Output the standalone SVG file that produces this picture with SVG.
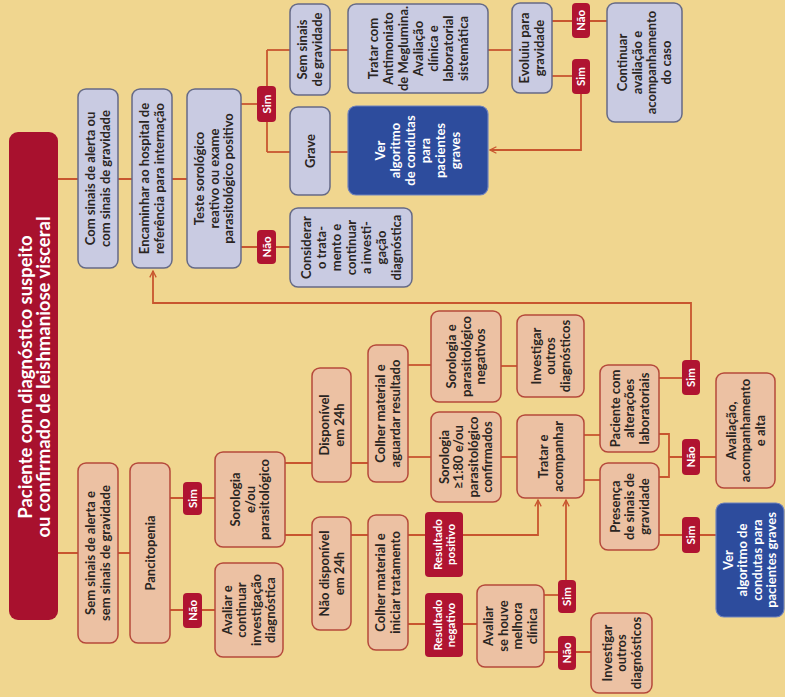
<svg xmlns="http://www.w3.org/2000/svg" width="785" height="697" viewBox="0 0 785 697">
<style>
.lav{fill:#c9cbe2;stroke:#656a86;stroke-width:1.5}
.pea{fill:#ecc1a3;stroke:#b5493b;stroke-width:1.5}
.blu{fill:#2d4c9d;stroke:#6f82bd;stroke-width:1.2}
.bad{fill:#b01431}
.tit{fill:#a8112e}
text{font-family:Lato,"Open Sans","Liberation Sans",sans-serif;font-weight:700;font-size:13px;fill:#2a2522;text-anchor:middle}
.w{fill:#ffffff}
.b{font-size:11.5px}
.h{font-size:18.5px}
#conn path{fill:none;stroke:#c8562f;stroke-width:1.8}
</style>
<defs>
<marker id="ar" viewBox="0 0 10 10" refX="9" refY="5" markerWidth="8" markerHeight="8" markerUnits="userSpaceOnUse" orient="auto"><path d="M1,1 L9,5 L1,9" fill="none" stroke="#c8562f" stroke-width="1.6"/></marker>
</defs>
<rect width="785" height="697" fill="#f0d68f"/>
<g id="conn">
<path d="M58,179 H187"/>
<path d="M241,104 H257"/>
<path d="M267,50 V152"/>
<path d="M267,50 H290"/>
<path d="M267,152 H290"/>
<path d="M241,247 H290"/>
<path d="M330,50 H348"/>
<path d="M330,152 H348"/>
<path d="M488,50 H512"/>
<path d="M552,21 H607"/>
<path d="M552,76 H572"/>
<path d="M581,94 V150 H490" marker-end="url(#ar)"/>
<path d="M691,360 V303 H153 V271" marker-end="url(#ar)"/>
<path d="M58,553 H130"/>
<path d="M170,498 H215"/>
<path d="M170,610 H215"/>
<path d="M285,463 H368"/>
<path d="M285,535 H425"/>
<path d="M408,365 H431"/>
<path d="M408,457 H431"/>
<path d="M463,535 H538 V500" marker-end="url(#ar)"/>
<path d="M408,624 H477"/>
<path d="M544,595 H558"/>
<path d="M566,580 V500" marker-end="url(#ar)"/>
<path d="M544,652 H591"/>
<path d="M501,366 H517"/>
<path d="M501,457 H517"/>
<path d="M584,435 H600"/>
<path d="M584,480 H600"/>
<path d="M659,378 H682"/>
<path d="M659,434 H669 V477 H659"/>
<path d="M669,457 H716"/>
<path d="M659,535 H716"/>
</g>
<g id="title"><rect class="tit" x="9" y="132" width="49" height="488" rx="9"/>
<text class="w h" transform="translate(34,377) rotate(-90)"><tspan x="0" y="-2">Paciente com diagnóstico suspeito</tspan><tspan x="0" y="15.5">ou confirmado de leishmaniose visceral</tspan></text></g>

<g id="L1"><rect class="lav" x="78" y="89" width="40" height="179" rx="8"/>
<text transform="translate(98,178.5) rotate(-90)"><tspan x="0" y="-3">Com sinais de alerta ou</tspan><tspan x="0" y="12">com sinais de gravidade</tspan></text></g>
<g id="L2"><rect class="lav" x="132" y="89" width="40" height="179" rx="8"/>
<text transform="translate(152,178.5) rotate(-90)"><tspan x="0" y="-3">Encaminhar ao hospital de</tspan><tspan x="0" y="12">referência para internação</tspan></text></g>
<g id="L3"><rect class="lav" x="187" y="89" width="54" height="179" rx="8"/>
<text transform="translate(214,178.5) rotate(-90)"><tspan x="0" y="-10">Teste sorológico</tspan><tspan x="0" y="4.5">reativo ou exame</tspan><tspan x="0" y="19">parasitológico positivo</tspan></text></g>
<g id="S1"><rect class="bad" x="257" y="86" width="19" height="36" rx="4"/>
<text class="w b" transform="translate(266.5,104) rotate(-90)"><tspan x="0" y="4">Sim</tspan></text></g>
<g id="N1"><rect class="bad" x="257" y="230" width="19" height="34" rx="4"/>
<text class="w b" transform="translate(266.5,247) rotate(-90)"><tspan x="0" y="4">Não</tspan></text></g>
<g id="L4"><rect class="lav" x="290" y="4" width="40" height="91" rx="8"/>
<text transform="translate(310,49.5) rotate(-90)"><tspan x="0" y="-3">Sem sinais</tspan><tspan x="0" y="12">de gravidade</tspan></text></g>
<g id="L5"><rect class="lav" x="290" y="107" width="40" height="88" rx="8"/>
<text transform="translate(310,151) rotate(-90)"><tspan x="0" y="4.5">Grave</tspan></text></g>
<g id="L6"><rect class="lav" x="290" y="208" width="122" height="79" rx="8"/>
<text transform="translate(351,247.5) rotate(-90)"><tspan x="0" y="-40.5">Considerar</tspan><tspan x="0" y="-25.5">o trata-</tspan><tspan x="0" y="-10.5">mento e</tspan><tspan x="0" y="4.5">continuar</tspan><tspan x="0" y="19.5">a investi-</tspan><tspan x="0" y="34.5">gação</tspan><tspan x="0" y="49.5">diagnóstica</tspan></text></g>
<g id="L7"><rect class="lav" x="348" y="4" width="140" height="89" rx="8"/>
<text transform="translate(418,48.5) rotate(-90)"><tspan x="0" y="-40.5">Tratar com</tspan><tspan x="0" y="-25.5">Antimoniato</tspan><tspan x="0" y="-10.5">de Meglumina.</tspan><tspan x="0" y="4.5">Avaliação</tspan><tspan x="0" y="19.5">clínica e</tspan><tspan x="0" y="34.5">laboratorial</tspan><tspan x="0" y="49.5">sistemática</tspan></text></g>
<g id="B1"><rect class="blu" x="348" y="106" width="140" height="89" rx="8"/>
<text class="w" transform="translate(418,150.5) rotate(-90)"><tspan x="0" y="-33">Ver</tspan><tspan x="0" y="-18">algoritmo</tspan><tspan x="0" y="-3">de condutas</tspan><tspan x="0" y="12">para</tspan><tspan x="0" y="27">pacientes</tspan><tspan x="0" y="42">graves</tspan></text></g>
<g id="L8"><rect class="lav" x="512" y="3" width="40" height="90" rx="8"/>
<text transform="translate(532,48) rotate(-90)"><tspan x="0" y="-3">Evoluiu para</tspan><tspan x="0" y="12">gravidade</tspan></text></g>
<g id="N2"><rect class="bad" x="572" y="3" width="18" height="35" rx="4"/>
<text class="w b" transform="translate(581,20.5) rotate(-90)"><tspan x="0" y="4">Não</tspan></text></g>
<g id="S2"><rect class="bad" x="572" y="59" width="18" height="35" rx="4"/>
<text class="w b" transform="translate(581,76.5) rotate(-90)"><tspan x="0" y="4">Sim</tspan></text></g>
<g id="L9"><rect class="lav" x="607" y="3" width="75" height="119" rx="8"/>
<text transform="translate(644.5,62.5) rotate(-90)"><tspan x="0" y="-17.25">Continuar</tspan><tspan x="0" y="-2.75">avaliação e</tspan><tspan x="0" y="11.75">acompanhamento</tspan><tspan x="0" y="26.25">do caso</tspan></text></g>

<g id="P1"><rect class="pea" x="78" y="463" width="40" height="180" rx="8"/>
<text transform="translate(98,553) rotate(-90)"><tspan x="0" y="-3">Sem sinais de alerta e</tspan><tspan x="0" y="12">sem sinais de gravidade</tspan></text></g>
<g id="P2"><rect class="pea" x="130" y="463" width="40" height="180" rx="8"/>
<text transform="translate(150,553) rotate(-90)"><tspan x="0" y="4.5">Pancitopenia</tspan></text></g>
<g id="S3"><rect class="bad" x="183" y="482" width="19" height="33" rx="4"/>
<text class="w b" transform="translate(192.5,498.5) rotate(-90)"><tspan x="0" y="4">Sim</tspan></text></g>
<g id="N3"><rect class="bad" x="183" y="593" width="19" height="35" rx="4"/>
<text class="w b" transform="translate(192.5,610.5) rotate(-90)"><tspan x="0" y="4">Não</tspan></text></g>
<g id="P3"><rect class="pea" x="215" y="452" width="70" height="95" rx="8"/>
<text transform="translate(250,499.5) rotate(-90)"><tspan x="0" y="-10">Sorologia</tspan><tspan x="0" y="4.5">e/ou</tspan><tspan x="0" y="19">parasitológico</tspan></text></g>
<g id="P4"><rect class="pea" x="215" y="563" width="68" height="94" rx="8"/>
<text transform="translate(249,610) rotate(-90)"><tspan x="0" y="-17.25">Avaliar e</tspan><tspan x="0" y="-2.75">continuar</tspan><tspan x="0" y="11.75">investigação</tspan><tspan x="0" y="26.25">diagnóstica</tspan></text></g>
<g id="P5"><rect class="pea" x="312" y="368" width="39" height="114" rx="8"/>
<text transform="translate(331.5,425) rotate(-90)"><tspan x="0" y="-3">Disponível</tspan><tspan x="0" y="12">em 24h</tspan></text></g>
<g id="P6"><rect class="pea" x="312" y="517" width="39" height="113" rx="8"/>
<text transform="translate(331.5,573.5) rotate(-90)"><tspan x="0" y="-3">Não disponível</tspan><tspan x="0" y="12">em 24h</tspan></text></g>
<g id="P7"><rect class="pea" x="368" y="345" width="40" height="137" rx="8"/>
<text transform="translate(388,413.5) rotate(-90)"><tspan x="0" y="-3">Colher material e</tspan><tspan x="0" y="12">aguardar resultado</tspan></text></g>
<g id="P8"><rect class="pea" x="368" y="515" width="40" height="135" rx="8"/>
<text transform="translate(388,582.5) rotate(-90)"><tspan x="0" y="-3">Colher material e</tspan><tspan x="0" y="12">iniciar tratamento</tspan></text></g>
<g id="P9"><rect class="pea" x="431" y="311" width="70" height="91" rx="8"/>
<text transform="translate(466,356.5) rotate(-90)"><tspan x="0" y="-10">Sorologia e</tspan><tspan x="0" y="4.5">parasitológico</tspan><tspan x="0" y="19">negativos</tspan></text></g>
<g id="P10"><rect class="pea" x="431" y="412" width="70" height="90" rx="8"/>
<text transform="translate(466,457) rotate(-90)"><tspan x="0" y="-17.25">Sorologia</tspan><tspan x="0" y="-2.75">≥1:80 e/ou</tspan><tspan x="0" y="11.75">parasitológico</tspan><tspan x="0" y="26.25">confirmados</tspan></text></g>
<g id="R1"><rect class="bad" x="425" y="512" width="38" height="65" rx="4"/>
<text class="w b" transform="translate(444,544.5) rotate(-90)"><tspan x="0" y="-2.5">Resultado</tspan><tspan x="0" y="10.5">positivo</tspan></text></g>
<g id="R2"><rect class="bad" x="425" y="593" width="38" height="64" rx="4"/>
<text class="w b" transform="translate(444,625) rotate(-90)"><tspan x="0" y="-2.5">Resultado</tspan><tspan x="0" y="10.5">negativo</tspan></text></g>
<g id="P11"><rect class="pea" x="477" y="585" width="67" height="82" rx="8"/>
<text transform="translate(510.5,626) rotate(-90)"><tspan x="0" y="-17.25">Avaliar</tspan><tspan x="0" y="-2.75">se houve</tspan><tspan x="0" y="11.75">melhora</tspan><tspan x="0" y="26.25">clínica</tspan></text></g>
<g id="P12"><rect class="pea" x="517" y="315" width="67" height="82" rx="8"/>
<text transform="translate(550.5,356) rotate(-90)"><tspan x="0" y="-10">Investigar</tspan><tspan x="0" y="4.5">outros</tspan><tspan x="0" y="19">diagnósticos</tspan></text></g>
<g id="P13"><rect class="pea" x="517" y="415" width="67" height="83" rx="8"/>
<text transform="translate(550.5,456.5) rotate(-90)"><tspan x="0" y="-3">Tratar e</tspan><tspan x="0" y="12">acompanhar</tspan></text></g>
<g id="S4"><rect class="bad" x="558" y="580" width="18" height="33" rx="4"/>
<text class="w b" transform="translate(567,596.5) rotate(-90)"><tspan x="0" y="4">Sim</tspan></text></g>
<g id="N4"><rect class="bad" x="558" y="636" width="18" height="34" rx="4"/>
<text class="w b" transform="translate(567,653) rotate(-90)"><tspan x="0" y="4">Não</tspan></text></g>
<g id="P14"><rect class="pea" x="591" y="613" width="61" height="80" rx="8"/>
<text transform="translate(621.5,653) rotate(-90)"><tspan x="0" y="-10">Investigar</tspan><tspan x="0" y="4.5">outros</tspan><tspan x="0" y="19">diagnósticos</tspan></text></g>
<g id="P15"><rect class="pea" x="600" y="365" width="59" height="87" rx="8"/>
<text transform="translate(629.5,408.5) rotate(-90)"><tspan x="0" y="-10">Paciente com</tspan><tspan x="0" y="4.5">alterações</tspan><tspan x="0" y="19">laboratoriais</tspan></text></g>
<g id="P16"><rect class="pea" x="600" y="463" width="59" height="87" rx="8"/>
<text transform="translate(629.5,506.5) rotate(-90)"><tspan x="0" y="-10">Presença</tspan><tspan x="0" y="4.5">de sinais de</tspan><tspan x="0" y="19">gravidade</tspan></text></g>
<g id="S5"><rect class="bad" x="682" y="360" width="18" height="35" rx="4"/>
<text class="w b" transform="translate(691,377.5) rotate(-90)"><tspan x="0" y="4">Sim</tspan></text></g>
<g id="N5"><rect class="bad" x="682" y="439" width="18" height="36" rx="4"/>
<text class="w b" transform="translate(691,457) rotate(-90)"><tspan x="0" y="4">Não</tspan></text></g>
<g id="S6"><rect class="bad" x="682" y="517" width="18" height="36" rx="4"/>
<text class="w b" transform="translate(691,535) rotate(-90)"><tspan x="0" y="4">Sim</tspan></text></g>
<g id="P17"><rect class="pea" x="716" y="373" width="59" height="115" rx="8"/>
<text transform="translate(745.5,430.5) rotate(-90)"><tspan x="0" y="-10">Avaliação,</tspan><tspan x="0" y="4.5">acompanhamento</tspan><tspan x="0" y="19">e alta</tspan></text></g>
<g id="B2"><rect class="blu" x="716" y="503" width="68" height="114" rx="8"/>
<text class="w" transform="translate(750,560) rotate(-90)"><tspan x="0" y="-17.25">Ver</tspan><tspan x="0" y="-2.75">algoritmo de</tspan><tspan x="0" y="11.75">condutas para</tspan><tspan x="0" y="26.25">pacientes graves</tspan></text></g>
</svg>
